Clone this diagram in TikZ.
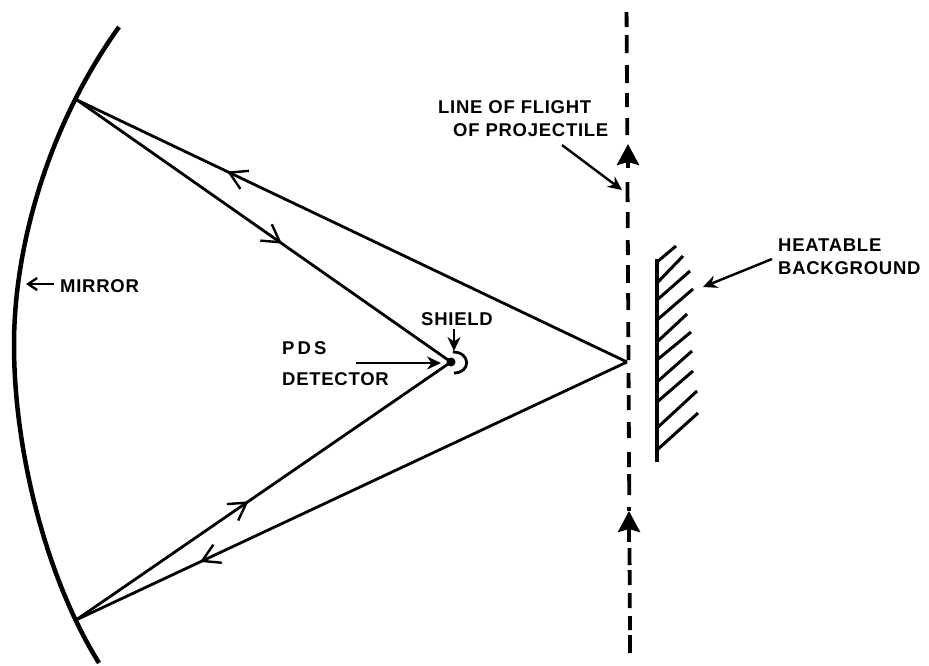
\documentclass[tikz,border=0pt]{standalone}
\usepackage{fontspec}
\setmainfont{Liberation Sans}[LetterSpace=4]
\usetikzlibrary{arrows.meta, decorations.markings}
\tikzset{
  lettering/.style = {inner sep=2pt, align=left, font=\fontsize{18.5}{23}\selectfont\bfseries},
  mirrorline/.style = {line width=4.5pt},
  rayline/.style = {line width=2.8pt},
  raytip/.style = {postaction={decorate}, decoration={markings, mark=at position #1 with {\arrow[line width=2.4pt]{Straight Barb[length=17pt,width=20pt]}}}},
  pointer/.style = {line width=2.4pt, -{Stealth[length=14pt,width=13pt]}},
  flightline/.style = {line width=3.8pt},
  flighttip/.style = {flightline, -{Stealth[length=21pt,width=22pt,inset=3pt]}},
  hatchline/.style = {line width=3pt}
}
\begin{document}
\begin{tikzpicture}[x=1pt, y=-1pt]
\useasboundingbox (0,0) rectangle (929,665);
\coordinate (mtop) at (77,100);
\coordinate (mbot) at (76,620);
\coordinate (mleft) at (14,345);
\coordinate (det) at (451,362);
\coordinate (focus) at (627,362);
% mirror and rays
\draw[mirrorline] (119,27) .. controls (52,120) and (14,240) .. (mleft) .. controls (14,450) and (46,578) .. (99,663);
\draw[rayline, raytip=.727] (focus) -- (mtop);
\draw[rayline, raytip=.548] (mtop) -- (det);
\draw[rayline, raytip=.46] (mbot) -- (det);
\draw[rayline, raytip=.775] (focus) -- (mbot);
% detector and shield
\fill (det) circle (4.5);
\coordinate (shieldtop) at (453,352);
\coordinate (shieldbot) at (454,373);
\draw[line width=2.8pt] (shieldtop) .. controls (471,352) and (471,373) .. (shieldbot);
% line of flight
\foreach \ya/\yb in {12/27, 35/53, 65/83, 93/107, 118/135, 182/202, 212/228, 240/255, 265/283, 293/310, 322/337, 345/360, 373/388, 395/410, 422/438, 452/467, 474/495, 548/565, 570/585, 593/608, 616/630, 635/653}
  \draw[flightline] (626.5+0.0055*\ya,\ya) -- (626.5+0.0055*\yb,\yb);
\coordinate (flightup) at (628,144);
\coordinate (flightupend) at (628,168);
\coordinate (flightlow) at (629,511);
\coordinate (flightlowend) at (629,542);
\draw[flighttip] (flightupend) -- (flightup);
\draw[flighttip] (flightlowend) -- (flightlow);
\draw[flightline] (flightlow) -- (629,507);
% background
\coordinate (bgtop) at (657,259);
\coordinate (bgbot) at (657,462);
\draw[line width=3.4pt] (bgtop) -- (bgbot);
\foreach \xa/\ya/\xb/\yb in {657/262/676/246, 657/283/683/256, 657/300/690/271, 657/320/693/289, 657/342/687/314, 657/360/691/332, 657/382/692/351, 657/402/693/371, 657/428/697/391, 657/450/698/413}
  \draw[hatchline] (\xa,\ya) -- (\xb,\yb);
% labels
\node[lettering, anchor=west] (mirrorlbl) at (58,286) {MIRROR};
\node[lettering, anchor=south] (shieldlbl) at (457,328) {SHIELD};
\node[lettering, anchor=west] (pdslbl) at (280,348) {P\,D\,S};
\node[lettering, anchor=west] (detlbl) at (280,379) {DETECTOR};
\node[lettering, anchor=west] (flightlbl) at (436,118.5) {LINE OF FLIGHT\\\hspace*{15pt}OF PROJECTILE};
\node[lettering, anchor=west] (heatlbl) at (776,256.5) {HEATABLE\\BACKGROUND};
\coordinate (mirrortip) at (26,284);
\coordinate (shieldtip) at (454,351);
\coordinate (pdstail) at (356,363);
\coordinate (pdstip) at (441,363);
\coordinate (flighttail) at (562,145);
\coordinate (flightptr) at (622,190);
\coordinate (heattail) at (772,259);
\coordinate (heattip) at (703,287);
\draw[line width=2.4pt, -{Straight Barb[length=9pt,width=12pt]}] (mirrorlbl.west) ++(-4,-2) -- (mirrortip);
\draw[pointer] (454,329) -- (shieldtip);
\draw[pointer] (pdstail) -- (pdstip);
\draw[pointer] (flighttail) -- (flightptr);
\draw[pointer] (heattail) -- (heattip);
\end{tikzpicture}
\end{document}
